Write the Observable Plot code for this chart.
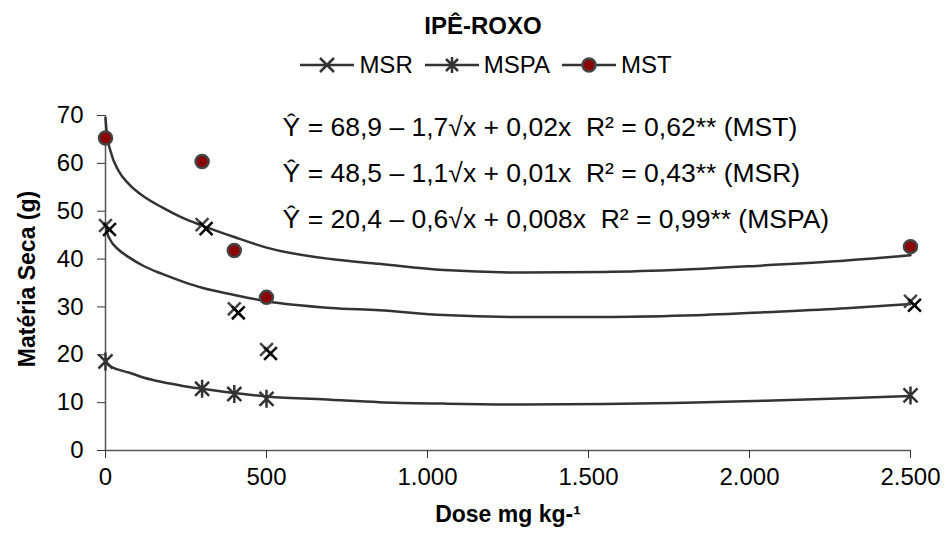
<!DOCTYPE html>
<html><head><meta charset="utf-8">
<script src="https://cdn.jsdelivr.net/npm/d3@7"></script>
<script src="https://cdn.jsdelivr.net/npm/@observablehq/plot@0.6"></script>
<style>
body{margin:0;background:#fff;font-family:"Liberation Sans",Arial,sans-serif;}
#wrap{width:946px;height:540px;position:relative;overflow:hidden;background:#fff}
#chart{position:absolute;top:0;left:0;z-index:1}
#title{position:absolute;z-index:2;top:11px;left:0;width:966px;text-align:center;font-weight:bold;font-size:24px;line-height:30px;color:#000}
#legend{position:absolute;z-index:2;top:51px;left:0;width:972px;display:flex;justify-content:center;align-items:center;font-size:24px;line-height:28px;color:#000}
#legend .item{display:flex;align-items:center;margin:0 6px}
#legend svg{display:block;margin-right:5px}
</style></head>
<body><div id="wrap"><div id="chart"></div><div id="title">IPÊ-ROXO</div><div id="legend"></div></div>
<script>
// ---- data ----
const dose = [0, 300, 400, 500, 2500];
const msr  = [47.0, 47.2, 29.6, 21.1, 31.2];
const mspa = [18.6, 12.9, 11.8, 10.8, 11.5];
const mst  = [65.3, 60.4, 41.8, 32.0, 42.6];

// fitted curves
const curveDose = [0, 4, 15, 40, 72, 120, 176, 240, 300, 400, 500, 700, 850, 1050, 1300, 1550, 1800, 2050, 2300, 2500];
const mstFit  = [69.5, 66.3, 62.7, 58.5, 55.7, 53.0, 50.8, 48.6, 47.0, 44.6, 42.4, 40.0, 39.0, 37.7, 37.2, 37.3, 37.8, 38.7, 39.7, 40.8];
const msrFit  = [47.5, 45.8, 44.0, 42.0, 40.4, 38.5, 36.9, 35.3, 34.0, 32.5, 31.2, 29.8, 29.3, 28.3, 27.9, 27.9, 28.2, 28.9, 29.7, 30.6];
const mspaFit = [19.0, 18.3, 17.6, 16.9, 16.3, 15.2, 14.3, 13.5, 12.9, 12.0, 11.3, 10.6, 10.1, 9.8, 9.6, 9.7, 10.0, 10.4, 10.9, 11.4];

const xTicks = [0, 500, 1000, 1500, 2000, 2500];
const yTicks = [0, 10, 20, 30, 40, 50, 60, 70];

const equations = [
  "Ŷ = 68,9 – 1,7√x + 0,02x  R² = 0,62** (MST)",
  "Ŷ = 48,5 – 1,1√x + 0,01x  R² = 0,43** (MSR)",
  "Ŷ = 20,4 – 0,6√x + 0,008x  R² = 0,99** (MSPA)"
];
const eqX = [550, 550, 550];
const eqY = [67.5, 57.9, 48.3];

const seriesNames = ["MSR", "MSPA", "MST"];
const xLabel = "Dose mg kg-¹";
const yLabel = "Matéria Seca (g)";

// ---- build tables ----
const pts = dose.map((d, i) => ({dose: d, msr: msr[i], mspa: mspa[i], mst: mst[i]}));
const fit = curveDose.map((d, i) => ({dose: d, mst: mstFit[i], msr: msrFit[i], mspa: mspaFit[i]}));
const eqs = equations.map((t, i) => ({t, x: eqX[i], y: eqY[i]}));

const loc = d3.formatLocale({decimal: ",", thousands: ".", grouping: [3], currency: ["", ""]});
const fmt = loc.format(",d");

// custom marker symbols
const timesSym = {draw(ctx, size) { const r = Math.sqrt(size / Math.PI); const h = r * 0.8;
  ctx.moveTo(-h, -h); ctx.lineTo(h, h); ctx.moveTo(-h, h); ctx.lineTo(h, -h); }};
const starSym = {draw(ctx, size) { const r = Math.sqrt(size / Math.PI); const d = r * 0.78;
  ctx.moveTo(0, -r); ctx.lineTo(0, r); ctx.moveTo(-d, -d); ctx.lineTo(d, d); ctx.moveTo(-d, d); ctx.lineTo(d, -d); }};

const lineColor = "#333";
const dotFill = "#8b0000";

const chart = Plot.plot({
  width: 946, height: 540,
  marginTop: 115, marginBottom: 90, marginLeft: 105, marginRight: 36,
  style: {fontFamily: "'Liberation Sans', Arial, sans-serif", color: "#000", background: "#fff"},
  x: {domain: [0, 2500]},
  y: {domain: [0, 70]},
  marks: [
    Plot.ruleX([0], {y1: 0, y2: 70, stroke: "#555", strokeWidth: 1.5}),
    Plot.ruleY([0], {x1: 0, x2: 2500, stroke: "#555", strokeWidth: 1.5}),
    Plot.axisY({ticks: yTicks, tickSize: 8, tickPadding: 14, fontSize: 24, label: null, stroke: "#333"}),
    Plot.axisX({ticks: xTicks, tickSize: 8, tickPadding: 9, fontSize: 24, label: null, tickFormat: fmt, stroke: "#333"}),
    Plot.line(fit, {x: "dose", y: "mst", stroke: lineColor, strokeWidth: 2.5, curve: "monotone-x"}),
    Plot.line(fit, {x: "dose", y: "msr", stroke: lineColor, strokeWidth: 2.5, curve: "monotone-x"}),
    Plot.line(fit, {x: "dose", y: "mspa", stroke: lineColor, strokeWidth: 2.5, curve: "monotone-x"}),
    Plot.dot(pts, {x: "dose", y: "msr", symbol: timesSym, r: 8, fill: "none", stroke: "#444", strokeWidth: 2.5}),
    Plot.dot(pts, {x: "dose", y: "msr", symbol: timesSym, r: 8, fill: "none", stroke: "#000", strokeWidth: 2.5, dx: 4, dy: 4}),
    Plot.dot(pts, {x: "dose", y: "mspa", symbol: starSym, r: 9, fill: "none", stroke: "#333", strokeWidth: 2.5}),
    Plot.dot(pts, {x: "dose", y: "mst", r: 6.5, fill: dotFill, stroke: "#444", strokeWidth: 2.5}),
    Plot.text(eqs, {x: "x", y: "y", text: "t", textAnchor: "start", fontSize: 26.5, fill: "#000"}),
    Plot.text([xLabel], {frameAnchor: "bottom", textAnchor: "middle", dy: 71, fontSize: 23, fontWeight: "bold", fill: "#000"}),
    Plot.text([yLabel], {frameAnchor: "left", textAnchor: "middle", dx: -78, dy: -4, rotate: -90, fontSize: 23, fontWeight: "bold", fill: "#000"})
  ]
});
document.getElementById("chart").appendChild(chart);

// legend
const legend = document.getElementById("legend");
const legendSym = {
  MSR: '<path d="M20,5L34,19M20,19L34,5" stroke="#333" stroke-width="2.5" fill="none"/>',
  MSPA: '<path d="M27,4V20M21,6L33,18M21,18L33,6" stroke="#333" stroke-width="2.5" fill="none"/>',
  MST: '<circle cx="27" cy="12" r="6.5" fill="#8b0000" stroke="#444" stroke-width="2.5"/>'
};
seriesNames.forEach(name => {
  const item = document.createElement("div");
  item.className = "item";
  item.innerHTML = `<svg width="54" height="24"><line x1="0" x2="54" y1="12" y2="12" stroke="#333" stroke-width="2.5"/>${legendSym[name]}</svg><span>${name}</span>`;
  legend.appendChild(item);
});
</script></body></html>
